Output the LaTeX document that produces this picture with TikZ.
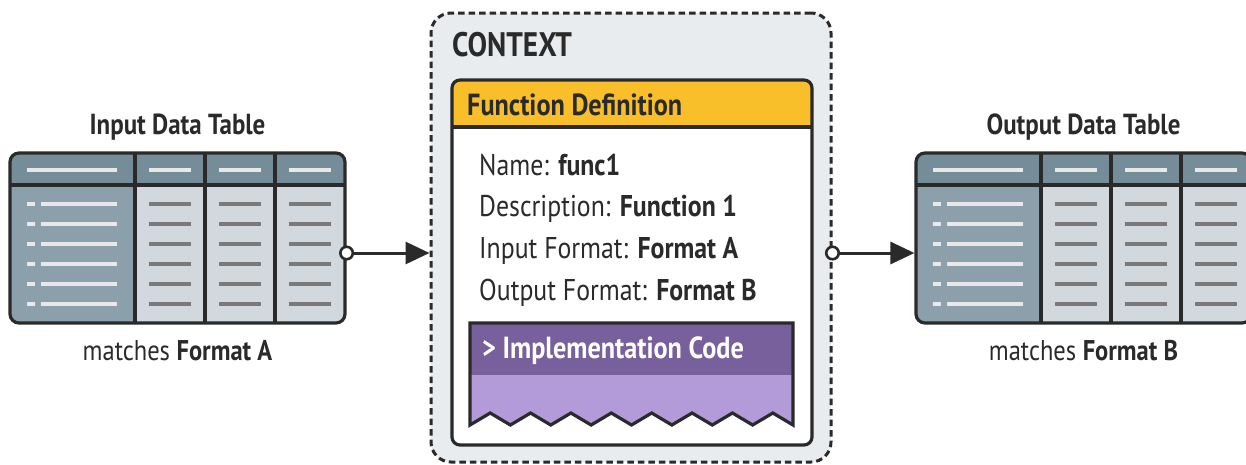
\documentclass[tikz,border=0pt]{standalone}
\usepackage{fontspec}
\setmainfont{PT Sans}[FakeStretch=0.86]
\usetikzlibrary{arrows.meta}

\definecolor{inkC}{HTML}{2A2A2A}
\definecolor{headC}{HTML}{758D99}
\definecolor{keyC}{HTML}{8BA0AA}
\definecolor{cellC}{HTML}{D1D9DE}
\definecolor{lightbarC}{HTML}{E8E8E8}
\definecolor{darkbarC}{HTML}{7A7A7A}
\definecolor{ctxC}{HTML}{E9ECEF}
\definecolor{yellowC}{HTML}{F9BF2B}
\definecolor{purpleC}{HTML}{77609B}
\definecolor{lilacC}{HTML}{B39BD9}

\tikzset{
  frame/.style={draw=inkC, line width=3.2pt},
  tablebox/.style={frame, rounded corners=9pt, inner sep=0pt, minimum width=335pt, minimum height=170pt},
  headbar/.style={draw=lightbarC, line width=4pt},
  keybar/.style={draw=lightbarC, line width=4pt},
  cellbar/.style={draw=darkbarC, line width=3.5pt},
  port/.style={circle, draw=inkC, fill=white, line width=2.6pt, inner sep=0pt, minimum size=12.5pt},
  link/.style={draw=inkC, line width=3pt, -{Triangle[length=24pt, width=22pt]}},
  ctxbox/.style={draw=inkC, line width=3pt, dash pattern=on 6.5pt off 4pt, fill=ctxC, rounded corners=20pt, inner sep=0pt, minimum width=400pt, minimum height=449pt},
  title/.style={font=\bfseries\fontsize{29}{31}\selectfont, text=inkC, anchor=base, inner sep=0pt},
  caption/.style={font=\fontsize{28.5}{30}\selectfont, text=inkC, anchor=base, inner sep=0pt},
  body/.style={font=\fontsize{30}{32}\selectfont, text=inkC, anchor=base west, inner sep=0pt},
}

% filled table body (columns and row bars), drawn at horizontal offset #1
\newcommand\tablefill[1]{%
  \begin{scope}[shift={(#1,0)}]
    \begin{scope}
      \clip[rounded corners=9pt] (10,153) rectangle (345,323);
      \fill[cellC] (10,153) rectangle (345,323);
      \fill[keyC] (10,185) rectangle (135,323);
      \fill[headC] (10,153) rectangle (345,185);
    \end{scope}
    \draw[headbar] (27,170) -- (117,170);
    \foreach \c in {135,205,275} \draw[headbar] (\c+14,170) -- (\c+56,170);
    \foreach \r in {204,224,244,264,284,304} {
      \fill[lightbarC] (27,\r-2.2) rectangle (35,\r+2.2);
      \draw[keybar] (41,\r) -- (117,\r);
      \foreach \c in {135,205,275} \draw[cellbar] (\c+14,\r) -- (\c+56,\r);
    }
    \draw[frame] (10,185) -- (345,185);
    \foreach \c in {135,205,275} \draw[frame] (\c,153) -- (\c,323);
  \end{scope}}

\begin{document}
\begin{tikzpicture}[x=1pt, y=-1pt]
  \useasboundingbox (0,0) rectangle (1246,464);
  \clip (0,0) rectangle (1246,464);
  \fill[white] (0,0) rectangle (1246,464);

  % input table
  \tablefill{0}
  \node[tablebox] (inTable) at (177.5,238) {};
  \node[title] (inTitle) at (177.5,134.3) {Input Data Table};
  \node[caption] (inNote) at (177.5,360) {matches \textbf{Format A}};

  % output table
  \tablefill{906}
  \node[tablebox] (outTable) at (1083.5,238) {};
  \node[title] (outTitle) at (1083.5,134.3) {Output Data Table};
  \node[caption] (outNote) at (1083.5,360) {matches \textbf{Format B}};

  % context container
  \node[ctxbox] (ctx) at (631,237.5) {};
  \node[anchor=base west, inner sep=0pt, text=inkC, font=\bfseries\fontsize{34}{36}\selectfont] (ctxTitle) at (452,56.7) {CONTEXT};

  % function definition card
  \begin{scope}
    \clip[rounded corners=8pt] (452,80) rectangle (812,445);
    \fill[white] (452,80) rectangle (812,445);
    \fill[yellowC] (452,80) rectangle (812,127);
  \end{scope}
  \draw[frame] (452,127) -- (812,127);
  \node[draw=inkC, line width=3.2pt, rounded corners=8pt, inner sep=0pt, minimum width=360pt, minimum height=365pt] (fnCard) at (632,262.5) {};
  \node[anchor=base west, inner sep=0pt, text=inkC, font=\bfseries\fontsize{30.5}{32}\selectfont] (fnTitle) at (467,115) {Function Definition};

  \node[body] (fnName) at (479,175) {Name: \textbf{func1}};
  \node[body] (fnDesc) at (479,216.5) {Description: \textbf{Function 1}};
  \node[body] (fnIn) at (479,258.3) {Input Format: \textbf{Format A}};
  \node[body] (fnOut) at (479,300) {Output Format: \textbf{Format B}};

  % implementation code panel with torn bottom edge
  \def\codeedge{(793,323) -- (793,425)
    \foreach \k in {7,...,0} { -- ({470+40.375*\k+20.19},413) -- ({470+40.375*\k},425) }}
  \fill[lilacC] (470,323) -- \codeedge -- cycle;
  \fill[purpleC] (470,323) rectangle (793,375);
  \draw[frame, line join=miter] (470,323) -- \codeedge -- cycle;
  \node[anchor=base west, inner sep=0pt, text=white, font=\bfseries\fontsize{30.5}{32}\selectfont] (codeLabel) at (482,358.3) {> Implementation Code};

  % connectors
  \coordinate (inPort) at (inTable.east |- 0,253);
  \coordinate (ctxIn) at (ctx.west |- 0,253);
  \coordinate (ctxOut) at (ctx.east |- 0,253);
  \coordinate (outPort) at (outTable.west |- 0,253);
  \draw[link] (inPort) -- (ctxIn);
  \draw[link] (ctxOut) -- (outPort);
  \node[port] (inDot) at (inPort) {};
  \node[port] (outDot) at (ctxOut) {};
\end{tikzpicture}
\end{document}
